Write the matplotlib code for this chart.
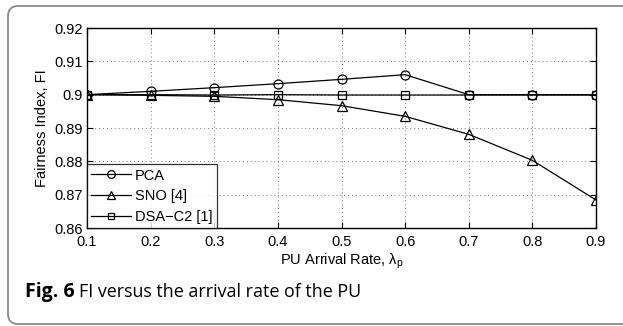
import matplotlib
matplotlib.use("Agg")
from matplotlib import pyplot as plt
from matplotlib.patches import FancyBboxPatch
from matplotlib.transforms import IdentityTransform

# data
arrival_rate = [0.1, 0.2, 0.3, 0.4, 0.5, 0.6, 0.7, 0.8, 0.9]
fi_pca = [0.9000, 0.9010, 0.9021, 0.9033, 0.9046, 0.9060, 0.9000, 0.9000, 0.9000]
fi_sno = [0.9000, 0.8998, 0.8995, 0.8985, 0.8967, 0.8935, 0.8881, 0.8803, 0.8684]
fi_dsa = [0.9000, 0.9000, 0.8999, 0.9000, 0.8999, 0.8999, 0.8999, 0.8999, 0.8999]
y_ticks = [0.86, 0.87, 0.88, 0.89, 0.90, 0.91, 0.92]
y_tick_labels = ['0.86', '0.87', '0.88', '0.89', '0.9', '0.91', '0.92']

plt.rcParams['font.family'] = ['Liberation Sans', 'DejaVu Sans']

W, H = 623, 326
fig = plt.figure(figsize=(W / 100, H / 100), dpi=100)

# rounded frame, runs off the right edge like the reference
frame = FancyBboxPatch((8, H - 324), 700, 318, transform=IdentityTransform(),
                       boxstyle="round,pad=0,rounding_size=10", fill=False,
                       edgecolor='#8a8a8a', linewidth=1.3)
fig.patches.append(frame)

ax = fig.add_axes([87 / W, 1 - 228 / H, (596 - 87) / W, (228 - 28) / H])

style = dict(color='black', linewidth=0.9, markerfacecolor='none', markeredgecolor='black',
             markeredgewidth=0.9)
ax.plot(arrival_rate, fi_pca, marker='o', markersize=6.5, label='PCA', **style)
ax.plot(arrival_rate, fi_sno, marker='^', markersize=7.5, label='SNO [4]', **style)
ax.plot(arrival_rate, fi_dsa, marker='s', markersize=5.5, label='DSA\u2212C2 [1]', **style)

ax.set_xlim(0.1, 0.9)
ax.set_ylim(0.86, 0.92)
ax.set_xticks(arrival_rate)
ax.set_xticklabels([f'{v:g}' for v in arrival_rate])
ax.set_yticks(y_ticks)
ax.set_yticklabels(y_tick_labels)
ax.tick_params(direction='in', top=True, right=True, labelsize=10.5, length=4)
ax.tick_params(axis='x', pad=5)
ax.tick_params(axis='y', pad=3)
ax.grid(True, linestyle=(0, (1, 3)), color='#777777', linewidth=0.7)
for s in ax.spines.values():
    s.set_linewidth(1.0)

ax.set_xlabel('PU Arrival Rate, $\\mathregular{\\lambda_p}$', fontsize=10.5, labelpad=2)
ax.set_ylabel('Fairness Index, FI', fontsize=10.5, labelpad=4)

leg = ax.legend(loc='lower left', fontsize=10.5, frameon=True, fancybox=False,
                edgecolor='black', borderaxespad=0, handlelength=2.7, handletextpad=0.3,
                labelspacing=0.45, borderpad=0.3, markerscale=0.85)
leg.get_frame().set_linewidth(0.9)

# caption: bold "Fig. 6" followed by plain text
fig.canvas.draw()
renderer = fig.canvas.get_renderer()
cap_y = 1 - 297 / H
bold = fig.text(25 / W, cap_y, 'Fig. 6', fontsize=14, fontweight='bold',
                family='Open Sans', va='baseline', ha='left')
bb = bold.get_window_extent(renderer)
fig.text((bb.x1 + 4) / W, cap_y, 'FI versus the arrival rate of the PU', fontsize=12.9,
         family='Open Sans', va='baseline', ha='left')

fig.savefig('out.png', dpi=100)
